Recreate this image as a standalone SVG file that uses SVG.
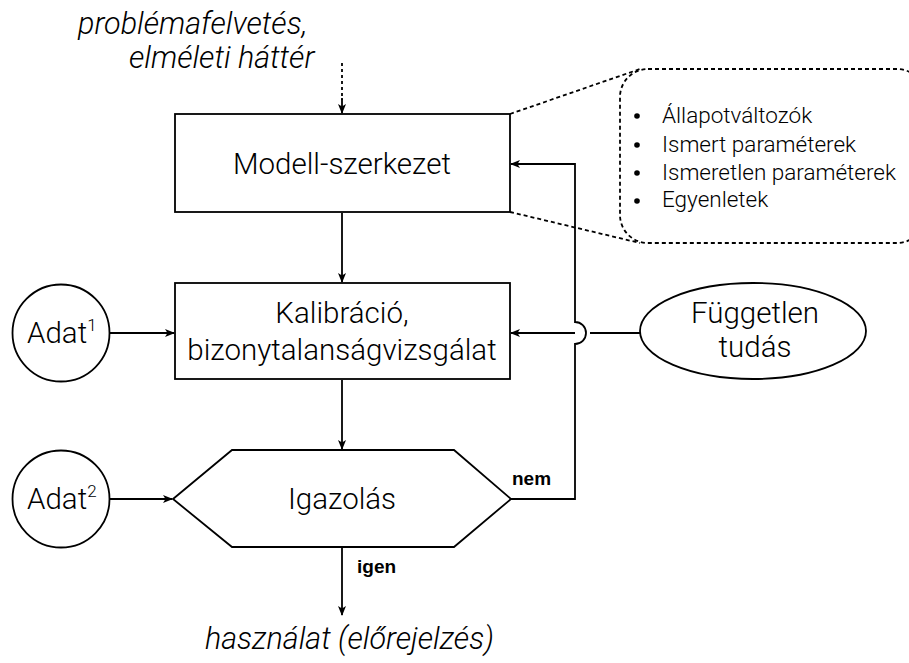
<svg xmlns="http://www.w3.org/2000/svg" width="909" height="663" viewBox="0 0 909 663">
  <style>
    .shape { fill: #ffffff; stroke: #000000; stroke-width: 1.8; }
    .line { fill: none; stroke: #000000; stroke-width: 1.8; }
    .dash { fill: none; stroke: #000000; stroke-width: 1.8; stroke-dasharray: 4 3; }
    .txt { font-family: Roboto, "Liberation Sans", sans-serif; font-weight: 300; fill: #000000; }
    .lbl { font-size: 29.5px; text-anchor: middle; }
    .it { font-style: italic; font-size: 30.5px; }
    .bul { font-size: 22.5px; }
    .bold { font-family: "Liberation Sans", Arial, sans-serif; font-weight: bold; font-size: 19px; fill: #000000; }
  </style>
  <defs>
    <marker id="arrow" markerWidth="10" markerHeight="10" refX="9" refY="5" orient="auto" markerUnits="userSpaceOnUse">
      <path d="M0,1 L10,5 L0,9 L2.5,5 z" fill="#000000"/>
    </marker>
  </defs>

  <rect width="909" height="663" fill="#ffffff"/>

  <!-- input / output captions -->
  <g id="caption-top">
    <text class="txt it" x="78" y="34">problémafelvetés,</text>
    <text class="txt it" x="129" y="68">elméleti háttér</text>
  </g>
  <g id="caption-bottom">
    <text class="txt it" x="205" y="649" font-size="31.5">használat (előrejelzés)</text>
  </g>

  <!-- connectors -->
  <g id="connectors">
    <path class="line" d="M342,63 L342,100" stroke-dasharray="3 3"/>
    <path class="line" d="M342,98 L342,113" marker-end="url(#arrow)"/>
    <path class="line" d="M342,213 L342,282" marker-end="url(#arrow)"/>
    <path class="line" d="M342,380 L342,449" marker-end="url(#arrow)"/>
    <path class="line" d="M342,548 L342,615" marker-end="url(#arrow)"/>
    <path class="line" d="M110,333 L174,333" marker-end="url(#arrow)"/>
    <path class="line" d="M110,499 L172,499" marker-end="url(#arrow)"/>
    <!-- feedback loop from the check back to the model structure, hopping over the knowledge link -->
    <path class="line" d="M511,499 L575,499 L575,344 A11,11 0 0 0 575,322 L575,164 L511,164" marker-end="url(#arrow)"/>
    <path class="line" d="M640,333 L590,333"/>
    <path class="line" d="M575,333 L511,333" marker-end="url(#arrow)"/>
    <!-- callout leaders -->
    <path class="dash" d="M510,114 L640,69"/>
    <path class="dash" d="M510,212 L640,243"/>
    <text class="bold" x="512" y="485">nem</text>
    <text class="bold" x="357" y="573">igen</text>
  </g>

  <g id="model-structure">
    <rect class="shape" x="175" y="114" width="335" height="98"/>
    <text class="txt lbl" x="342" y="174">Modell-szerkezet</text>
  </g>

  <g id="calibration">
    <rect class="shape" x="175" y="283" width="335" height="96"/>
    <text class="txt lbl" x="342" y="323">Kalibráció,</text>
    <text class="txt lbl" x="342" y="360">bizonytalanságvizsgálat</text>
  </g>

  <g id="verification">
    <polygon class="shape" points="173,499 232,450 454,450 511,499 454,547 232,547"/>
    <text class="txt lbl" x="342" y="509">Igazolás</text>
  </g>

  <g id="data1">
    <circle class="shape" cx="61" cy="333" r="48.5"/>
    <text class="txt" x="27" y="343" font-size="29.5">Adat<tspan font-size="17" dy="-12">1</tspan></text>
  </g>

  <g id="data2">
    <circle class="shape" cx="61" cy="499" r="48.5"/>
    <text class="txt" x="27" y="509" font-size="29.5">Adat<tspan font-size="17" dy="-12">2</tspan></text>
  </g>

  <g id="independent-knowledge">
    <ellipse class="shape" cx="753" cy="331" rx="113" ry="48"/>
    <text class="txt lbl" x="755" y="323">Független</text>
    <text class="txt lbl" x="755" y="357">tudás</text>
  </g>

  <g id="structure-details">
    <rect class="dash" x="620" y="69" width="305" height="174" rx="28"/>
    <g class="txt bul">
      <circle cx="637" cy="116" r="2.8"/>
      <circle cx="637" cy="145" r="2.8"/>
      <circle cx="637" cy="173" r="2.8"/>
      <circle cx="637" cy="201" r="2.8"/>
      <text x="662" y="123">Állapotváltozók</text>
      <text x="662" y="152">Ismert paraméterek</text>
      <text x="662" y="180">Ismeretlen paraméterek</text>
      <text x="662" y="207">Egyenletek</text>
    </g>
  </g>
</svg>
